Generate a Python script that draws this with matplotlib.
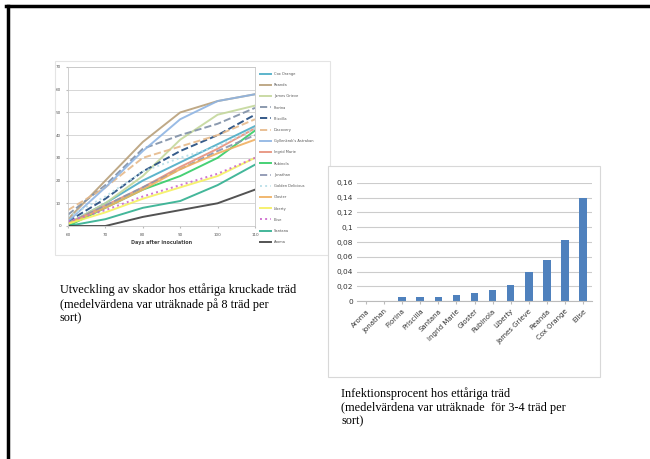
import numpy as np
import matplotlib
matplotlib.use("Agg")
import matplotlib.pyplot as plt
from matplotlib.patches import Rectangle
from matplotlib.lines import Line2D

# left chart: damage development per variety
days = [60, 70, 80, 90, 100, 110]
varieties = ["Cox Orange", "Reanda", "James Grieve", "Florina", "Priscilla",
             "Discovery", "Gyllenkrok's Astrakan", "Ingrid Marie", "Rubinola",
             "Jonathan", "Golden Delicious", "Gloster", "Liberty", "Elise",
             "Santana", "Aroma"]
damage = [
    [1, 10, 20, 28, 36, 44],   # Cox Orange
    [3, 20, 37, 50, 55, 58],   # Reanda
    [1, 10, 22, 38, 49, 53],   # James Grieve
    [5, 18, 34, 40, 45, 52],   # Florina
    [2, 12, 24, 33, 40, 49],   # Priscilla
    [7, 17, 30, 35, 40, 47],   # Discovery
    [2, 17, 33, 47, 55, 58],   # Gyllenkrok's Astrakan
    [1, 9, 17, 26, 34, 43],    # Ingrid Marie
    [0, 8, 16, 22, 30, 42],    # Rubinola
    [1, 9, 17, 25, 33, 40],    # Jonathan
    [4, 13, 24, 30, 35, 43],   # Golden Delicious
    [1, 8, 16, 25, 32, 38],    # Gloster
    [1, 6, 12, 17, 22, 30],    # Liberty
    [2, 7, 13, 18, 23, 30],    # Elise
    [0, 3, 8, 11, 18, 27],     # Santana
    [0, 0, 4, 7, 10, 16],      # Aroma
]
line_colors = ["#4BACC6", "#B8A07A", "#C4D79B", "#7F8FA6", "#1F497D",
               "#E6B98A", "#8EB4E3", "#E6907A", "#33CC66", "#8A94B0",
               "#B7DEE8", "#F0B060", "#F5F060", "#CC66CC", "#2FAF8F", "#404040"]
line_styles = ["-", "-", "-", "--", "--", "--", "-", "-", "-", "--",
               ":", "-", "-", ":", "-", "-"]

# right chart: infection percentage
bar_names = ["Aroma", "Jonathan", "Florina", "Priscilla", "Santana",
             "Ingrid Marie", "Gloster", "Rubinola", "Liberty", "James Grieve",
             "Reanda", "Cox Orange", "Elise"]
infection = [0, 0, 0.005, 0.005, 0.005, 0.008, 0.011, 0.015, 0.022,
             0.04, 0.056, 0.083, 0.14]

W, H = 650, 459
fig = plt.figure(figsize=(6.5, 4.59), dpi=100)


def box(x0, y0, x1, y1):
    return [x0 / W, 1 - y1 / H, (x1 - x0) / W, (y1 - y0) / H]


# slide frame (top and left edge)
fig.add_artist(Line2D([6 / W, 1], [1 - 5.5 / H, 1 - 5.5 / H], color="black", lw=2.5))
fig.add_artist(Line2D([7.5 / W, 7.5 / W], [0, 1 - 5.5 / H], color="black", lw=2.5))

# picture frames
fig.add_artist(Rectangle((55 / W, 1 - 255 / H), 275 / W, 194 / H, fill=False,
                         ec="#e4e4e4", lw=0.8))

ax1 = fig.add_axes(box(68, 67, 255, 226))
for vals, c, ls, name in zip(damage, line_colors, line_styles, varieties):
    ax1.plot(days, vals, color=c, ls=ls, lw=1.4, label=name, alpha=0.9)
ax1.set_xlim(60, 110)
ax1.set_ylim(0, 70)
ax1.set_xticks(days)
ax1.set_yticks(np.arange(0, 71, 10))
ax1.grid(axis="y", color="#d0d0d0", lw=0.6)
ax1.set_axisbelow(True)
ax1.tick_params(labelsize=3, length=1.5, color="#bbbbbb", labelcolor="#555555")
for s in ax1.spines.values():
    s.set_color("#c8c8c8")
    s.set_linewidth(0.6)
ax1.set_xlabel("Days after inoculation", fontsize=3.5, fontweight="bold",
               color="#444444", labelpad=2)
ax1.legend(loc="upper left", bbox_to_anchor=(1.01, 0.99), fontsize=2.6,
           frameon=False, handlelength=3, labelspacing=2.0, labelcolor="#555555")

fig.text(60 / W, 1 - 283 / H,
         "Utveckling av skador hos ettåriga kruckade träd\n"
         "(medelvärdena var uträknade på 8 träd per\nsort)",
         family="Liberation Serif", fontsize=8.8, va="top", linespacing=1.22)

# right picture
fig.add_artist(Rectangle((328 / W, 1 - 377 / H), 272 / W, 211 / H, fill=True,
                         fc="white", ec="#d8d8d8", lw=0.8, zorder=1))
ax2 = fig.add_axes(box(357, 183, 592, 301), zorder=2)
ax2.patch.set_alpha(0)
x = np.arange(len(bar_names))
ax2.bar(x, infection, width=0.42, color="#4F81BD")
ax2.set_ylim(0, 0.16)
ax2.set_xlim(-0.5, len(bar_names) - 0.5)
yt = np.arange(0, 0.161, 0.02)
ax2.set_yticks(yt)
ax2.set_yticklabels([("%g" % v).replace(".", ",") for v in np.round(yt, 2)])
ax2.set_xticks(x)
ax2.set_xticklabels(bar_names, rotation=45, ha="right", rotation_mode="anchor")
ax2.tick_params(axis="y", length=0, labelsize=5.3, labelcolor="#333333", pad=3)
ax2.tick_params(axis="x", length=2, color="#bbbbbb", labelsize=5,
                labelcolor="#333333", pad=3)
ax2.grid(axis="y", color="#cccccc", lw=0.8)
ax2.set_axisbelow(True)
for k in ["top", "right", "left"]:
    ax2.spines[k].set_visible(False)
ax2.spines["bottom"].set_color("#bbbbbb")

fig.text(341 / W, 1 - 387 / H,
         "Infektionsprocent hos ettåriga träd\n"
         "(medelvärdena var uträknade  för 3-4 träd per\nsort)",
         family="Liberation Serif", fontsize=8.8, va="top", linespacing=1.22)

fig.savefig("out.png", dpi=100)
